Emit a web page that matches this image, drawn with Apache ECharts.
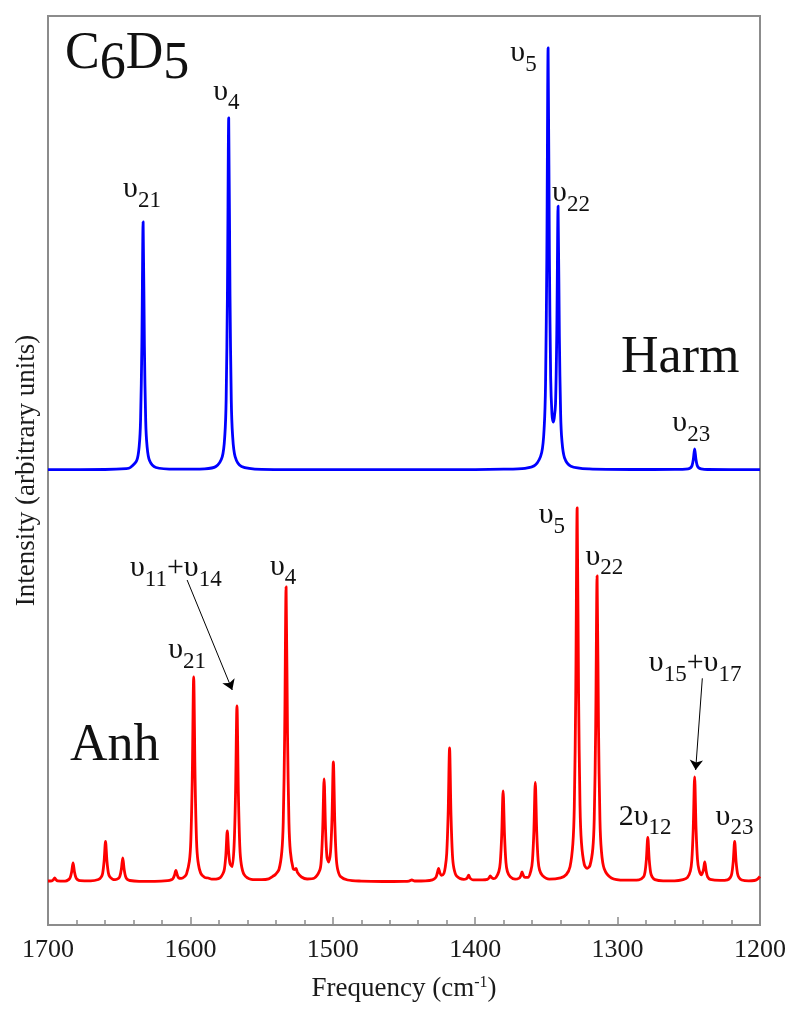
<!DOCTYPE html>
<html>
<head>
<meta charset="utf-8">
<script src="https://cdn.jsdelivr.net/npm/echarts@6/dist/echarts.min.js"></script>
<style>
  html, body { margin: 0; padding: 0; background: #fff; }
  #chart { width: 800px; height: 1019px; }
</style>
</head>
<body>
<div id="chart"></div>
<script>
const SERIF = "'Liberation Serif', 'Times New Roman', serif";

// frequency (cm-1), intensity (arbitrary units)
const harmData = [
  [1700, 0.3], [1660, 0.5], [1645, 1.4],
  [1642.2, 2.5], [1637.7, 9.4], [1635.9, 24.8], [1635.0, 49.6], [1634.1, 124], [1633.2, 248], [1632.3, 124], [1631.4, 49.6], [1630.5, 24.8], [1628.7, 9.4], [1624.2, 2.5],
  [1610, 0.8], [1590, 1.2],
  [1582.1, 3.5], [1577.6, 13.4], [1575.8, 35.2], [1574.9, 70.4], [1574.0, 176], [1573.1, 352], [1572.2, 176], [1571.3, 70.4], [1570.4, 35.2], [1568.6, 13.4], [1564.1, 3.5],
  [1550, 0.7], [1500, 0.3], [1420, 0.3], [1380, 0.8], [1365, 1.7],
  [1357.8, 4.9], [1353.3, 17.5], [1351.5, 44], [1350.6, 86.3], [1349.7, 212.3], [1348.8, 422], [1347.9, 214.6], [1347.0, 92.3], [1346.1, 56], [1345.3, 48], [1344.5, 52], [1343.6, 66], [1342.7, 137.4], [1341.8, 263.8], [1340.9, 134], [1340.0, 55.8], [1339.1, 29.3], [1337.3, 12.3], [1332.8, 3.8],
  [1320, 1.1], [1290, 0.5], [1260, 0.6],
  [1250.4, 1.2], [1248.6, 2.4], [1247.7, 4.5], [1246.8, 10.8], [1245.9, 21], [1245.0, 10.8], [1244.1, 4.5], [1243.2, 2.4], [1241.4, 1.2], [1236.9, 0.5],
  [1200, 0.3]
];

const anhData = [
  [1700, 1.0],
  [1697.3, 1.2], [1696.3, 2.2], [1695.3, 4], [1694.3, 2.2], [1693.3, 1.1],
  [1688, 0.8],
  [1685.4, 2.5], [1684.4, 4.5], [1683.4, 10], [1682.4, 19], [1681.4, 10], [1680.4, 4.4], [1679.4, 2.5], [1677.4, 1.3],
  [1670, 1.1],
  [1664.6, 2.5], [1662.6, 5], [1661.6, 8.8], [1660.6, 20.8], [1659.6, 40.5], [1658.6, 20.8], [1657.6, 9], [1656.6, 5.2], [1654.6, 2.8], [1652.8, 2.4],
  [1650.5, 3.6], [1649.5, 5.8], [1648.5, 12.7], [1647.5, 24.2], [1646.5, 12.4], [1645.5, 5.3], [1644.5, 2.9], [1642.5, 1.5], [1636, 0.7],
  [1625, 0.6],
  [1616, 1.3], [1613.2, 2.4], [1612.2, 3.6], [1611.2, 6.7], [1610.2, 11.6], [1609.2, 6.9], [1608.2, 4.1], [1606.5, 3.6],
  [1604, 5.5], [1602.7, 8.2], [1600.7, 21], [1599.7, 41.5], [1598.7, 103], [1597.7, 205], [1596.7, 103], [1595.7, 41.5], [1594.7, 21], [1592.7, 8.6],
  [1590, 4.6], [1587.5, 4.0], [1585, 2.8], [1582, 2.9], [1579, 4.4],
  [1577.1, 8.5], [1576.1, 13], [1575.1, 27], [1574.1, 51], [1573.1, 29], [1572.1, 18], [1570.7, 15.5],
  [1569.3, 37], [1568.3, 89], [1567.3, 176], [1566.3, 88], [1565.3, 35.5], [1564.3, 18], [1562.3, 7.5], [1557.3, 2.7],
  [1550, 2.3], [1545, 3.2], [1541.5, 6.2], [1540.3, 7.5],
  [1537.8, 12.5], [1535.8, 30.5], [1534.8, 60], [1533.8, 148], [1532.8, 295], [1531.8, 148], [1530.8, 60], [1529.8, 30.5], [1527.8, 13],
  [1526.6, 12.5], [1525.8, 13.5], [1524.8, 9.5], [1522, 5], [1518, 3], [1513, 3.9],
  [1509.1, 12], [1508.1, 22], [1507.1, 52.5], [1506.1, 103], [1505.1, 53], [1504.1, 25], [1502.9, 20], [1501.6, 30], [1500.6, 62], [1499.6, 120], [1498.6, 60], [1497.6, 25], [1496.6, 12.8], [1494.6, 5.5], [1489.6, 2],
  [1480, 0.9], [1465, 0.5], [1450, 0.6],
  [1446.5, 0.9], [1444.5, 2], [1442.5, 1.0],
  [1435, 1.2], [1430, 2.2],
  [1427.7, 4.5], [1426.7, 8.5], [1425.7, 13.5], [1424.7, 8.8], [1423.7, 6.6], [1422, 8.5],
  [1421, 15], [1420, 28.5], [1419, 68], [1418, 134], [1417, 67], [1416, 27.5], [1415, 14], [1413, 5.8], [1408, 2.6],
  [1406.6, 2.9], [1405.6, 4.2], [1404.6, 6.8], [1403.6, 3.9], [1401.6, 2.2],
  [1395, 2.2],
  [1391.4, 2.7], [1390.4, 3.9], [1389.4, 6.1], [1388.4, 4.3], [1387, 3.3],
  [1385.4, 4.5], [1383.4, 10.5], [1382.4, 19.5], [1381.4, 46.5], [1380.4, 91], [1379.4, 46.5], [1378.4, 19.5], [1377.4, 10.5], [1375.4, 5.2], [1372, 2.8],
  [1369.1, 3.9], [1368.1, 6], [1367.1, 10], [1366.1, 6.3], [1365.1, 4.6], [1363, 4.6],
  [1360.8, 11.8], [1359.8, 21.5], [1358.8, 50.5], [1357.8, 99.5], [1356.8, 50.5], [1355.8, 21.5], [1354.8, 12], [1352.8, 6.5], [1348, 2.8],
  [1340, 4.2], [1336, 7.5], [1333.4, 15.3], [1331.4, 38.5], [1330.4, 75.5], [1329.4, 187], [1328.4, 374], [1327.4, 187.5], [1326.4, 76.5], [1325.4, 39.7], [1323.4, 17.6], [1321.4, 13.6],
  [1319.4, 16.5], [1317.4, 33.5], [1316.4, 63.5], [1315.4, 154], [1314.4, 306], [1313.4, 153.6], [1312.4, 62.2], [1311.4, 31.6], [1309.4, 13.2], [1304.4, 4],
  [1295, 1.8], [1285, 2.2],
  [1281.8, 5.2], [1280.8, 9.5], [1279.8, 22.5], [1278.8, 44.5], [1277.8, 22.5], [1276.8, 9.5], [1275.8, 5.2], [1273.8, 2.4], [1268, 1.2],
  [1260, 1.2], [1254, 2.4],
  [1250.9, 4.6], [1248.9, 11], [1247.9, 21.5], [1246.9, 52.5], [1245.9, 105], [1244.9, 53], [1243.9, 22.5], [1242.9, 12.5],
  [1241.3, 7.2], [1239.8, 11.7], [1238.8, 20], [1237.8, 10.7], [1236.8, 5.1], [1235, 2.7], [1228, 1.6],
  [1222.8, 2.2], [1220.8, 4.6], [1219.8, 8.5], [1218.8, 20.5], [1217.8, 40.5], [1216.8, 20.5], [1215.8, 8.5], [1214.8, 4.5], [1212.8, 2], [1208, 1.1],
  [1204, 1.5], [1202, 2.7], [1200, 5.5]
];

// vertical shift of the harmonic trace above the anharmonic one
const HARM_OFFSET = 412;

const xTicks = [1700, 1600, 1500, 1400, 1300, 1200];

// peak labels: left edge frequency, value at the glyph baseline
const peakLabels = [
  { text: '{v|υ}{s|21}', freq: 1647.3, val: 682.7 },
  { text: '{v|υ}{s|4}', freq: 1584.0, val: 780.3 },
  { text: '{v|υ}{s|5}', freq: 1375.3, val: 818.7 },
  { text: '{v|υ}{s|22}', freq: 1346.0, val: 679 },
  { text: '{v|υ}{s|23}', freq: 1261.6, val: 449 },
  { text: '{v|υ}{s|21}', freq: 1615.6, val: 222 },
  { text: '{v|υ}{s|11}{v|+υ}{s|14}', freq: 1642.5, val: 304 },
  { text: '{v|υ}{s|4}', freq: 1544.1, val: 305.3 },
  { text: '{v|υ}{s|5}', freq: 1355.4, val: 357 },
  { text: '{v|υ}{s|22}', freq: 1322.6, val: 315.3 },
  { text: '{v|υ}{s|15}{v|+υ}{s|17}', freq: 1278.1, val: 208.7 },
  { text: '{v|2υ}{s|12}', freq: 1299.2, val: 55.3 },
  { text: '{v|υ}{s|23}', freq: 1231.2, val: 55.3 }
];

// arrows from the combination-band labels to their peaks
const arrows = [
  [[1602.3, 302], [1570.6, 192]],
  [[1240.5, 203.7], [1245.2, 112]]
];

const chart = echarts.init(document.getElementById('chart'), null, { renderer: 'canvas' });

const axisGray = '#8c8c8c';

const option = {
  animation: false,
  backgroundColor: '#fff',
  grid: {
    left: 48, right: 40, top: 16, bottom: 94,
    show: true, borderColor: axisGray, borderWidth: 2
  },
  xAxis: {
    type: 'value',
    min: 1200,
    max: 1700,
    interval: 100,
    inverse: true,
    axisLine: { show: true, onZero: false, lineStyle: { color: axisGray, width: 2 } },
    axisTick: { show: true, inside: true, length: 8, lineStyle: { color: axisGray, width: 1.5 } },
    minorTick: { show: true, splitNumber: 5, length: 5, lineStyle: { color: axisGray, width: 1.5 } },
    splitLine: { show: false },
    axisLabel: {
      fontFamily: SERIF, fontSize: 26, color: '#1a1a1a', margin: 12,
      formatter: v => (xTicks.includes(v) ? String(v) : '')
    },
    name: '{a|Frequency (cm}{b|-1}{a|)}',
    nameLocation: 'middle',
    nameGap: 50,
    nameTextStyle: {
      rich: {
        a: { fontFamily: SERIF, fontSize: 27, color: '#1a1a1a' },
        b: { fontFamily: SERIF, fontSize: 16, color: '#1a1a1a', verticalAlign: 'top' }
      }
    }
  },
  yAxis: {
    type: 'value',
    min: -43,
    max: 866,
    axisLine: { show: true, onZero: false, lineStyle: { color: axisGray, width: 2 } },
    axisTick: { show: false },
    axisLabel: { show: false },
    splitLine: { show: false },
    name: 'Intensity (arbitrary units)',
    nameLocation: 'middle',
    nameGap: 8,
    nameTextStyle: { fontFamily: SERIF, fontSize: 27, color: '#1a1a1a' }
  },
  series: [
    {
      name: 'Harm',
      type: 'line',
      showSymbol: false,
      symbol: 'none',
      smooth: 0.3,
      data: harmData.map(d => [d[0], d[1] + HARM_OFFSET]),
      lineStyle: { color: '#0000ff', width: 2.8, join: 'round' },
      z: 3
    },
    {
      name: 'Anh',
      type: 'line',
      showSymbol: false,
      symbol: 'none',
      smooth: 0.3,
      data: anhData,
      lineStyle: { color: '#ff0000', width: 2.8, join: 'round' },
      z: 3,
      markLine: {
        silent: true,
        symbol: ['none', 'arrow'],
        symbolSize: 10,
        label: { show: false },
        emphasis: { disabled: true },
        lineStyle: { color: '#000', width: 1, type: 'solid' },
        itemStyle: { color: '#000' },
        data: arrows.map(a => [{ coord: a[0] }, { coord: a[1] }])
      }
    }
  ]
};

chart.setOption(option);

const labelRich = {
  v: { fontFamily: SERIF, fontSize: 30, fill: '#111', padding: [0, 0, 8, 0], verticalAlign: 'bottom' },
  s: { fontFamily: SERIF, fontSize: 23, fill: '#111', verticalAlign: 'bottom' }
};

const graphics = peakLabels.map(l => {
  const p = chart.convertToPixel({ gridIndex: 0 }, [l.freq, l.val]);
  return {
    type: 'text',
    x: p[0],
    y: p[1] + 13,
    z: 10,
    style: {
      text: l.text, rich: labelRich,
      fontFamily: SERIF, fontSize: 30, fill: '#111',
      align: 'left', verticalAlign: 'bottom'
    }
  };
});

// panel titles
graphics.push({
  type: 'text', x: 65, y: 90, z: 10,
  style: {
    text: '{L|C}{D|6}{L|D}{D|5}',
    rich: {
      L: { fontFamily: SERIF, fontSize: 52, fill: '#111', padding: [0, 0, 10, 0], verticalAlign: 'bottom' },
      D: { fontFamily: SERIF, fontSize: 52, fill: '#111', verticalAlign: 'bottom' }
    },
    fontFamily: SERIF, fontSize: 52, fill: '#111',
    align: 'left', verticalAlign: 'bottom'
  }
});
graphics.push({
  type: 'text', x: 621, y: 358, z: 10,
  style: { text: 'Harm', fontFamily: SERIF, fontSize: 52, fill: '#111', align: 'left', verticalAlign: 'middle' }
});
graphics.push({
  type: 'text', x: 70, y: 746, z: 10,
  style: { text: 'Anh', fontFamily: SERIF, fontSize: 52, fill: '#111', align: 'left', verticalAlign: 'middle' }
});

chart.setOption({ graphic: graphics });
</script>
</body>
</html>
